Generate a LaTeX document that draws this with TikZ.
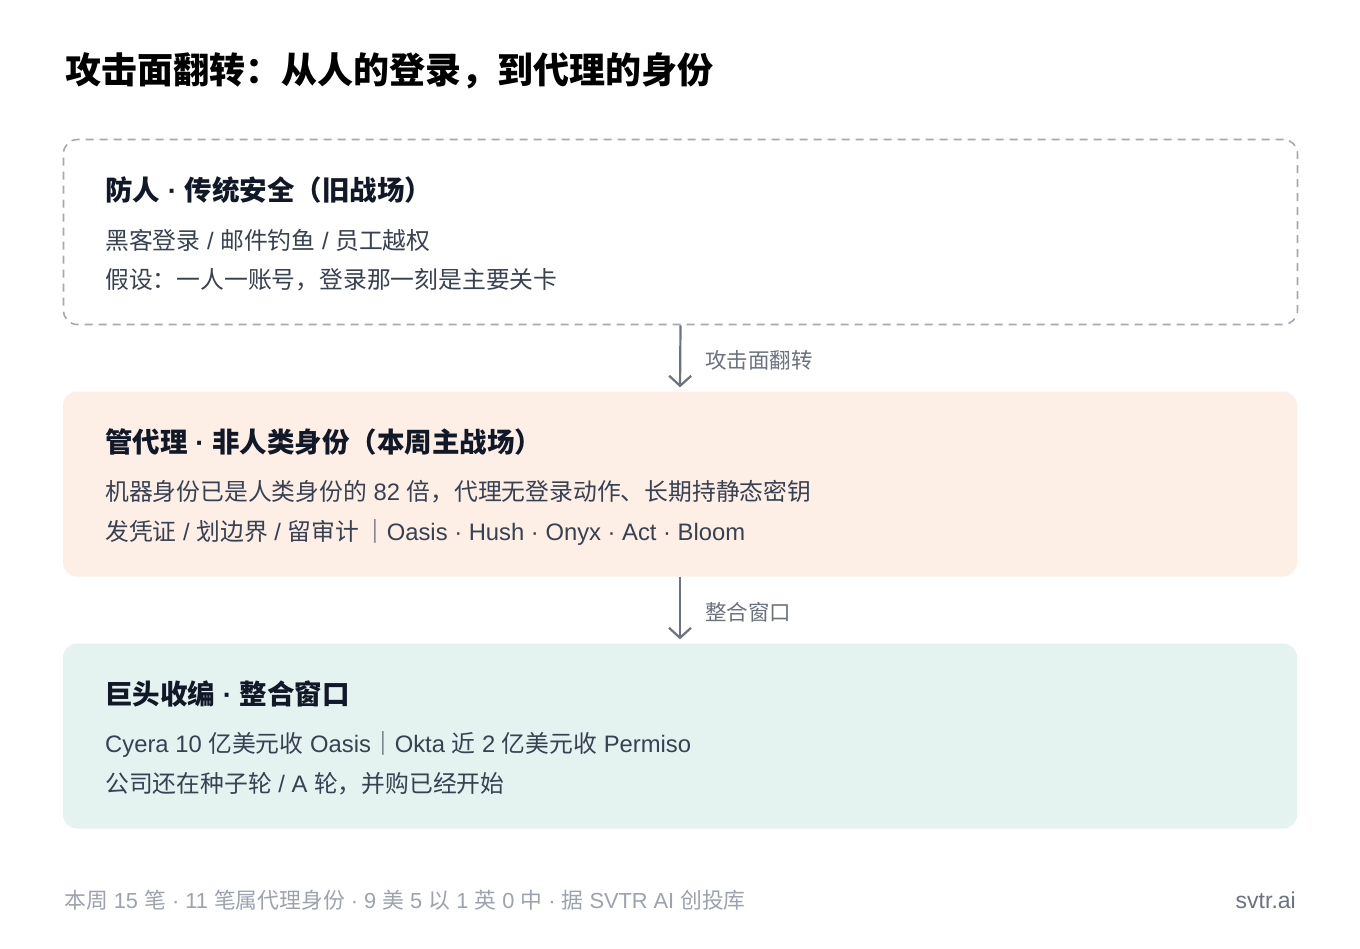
\documentclass[tikz,border=0pt]{standalone}
\usepackage{fontspec}
\setmainfont{Noto Sans CJK SC}
\newfontfamily\latinfont{Liberation Sans}
\newcommand\latn[1]{{\latinfont #1}}
\usetikzlibrary{arrows.meta}
\definecolor{inkdark}{HTML}{111827}
\definecolor{inkbody}{HTML}{374151}
\definecolor{arrowgray}{HTML}{6B7280}
\definecolor{footgray}{HTML}{9CA3AF}
\definecolor{dashgray}{HTML}{A3A9B3}
\definecolor{peachfill}{HTML}{FEEFE6}
\definecolor{mintfill}{HTML}{E4F2F0}
\begin{document}
\begin{tikzpicture}[x=1pt,y=-1pt,
  box/.style={rounded corners=14pt, minimum width=1234pt, minimum height=185pt, inner sep=0pt},
  head/.style={anchor=west, inner sep=0pt, text=inkdark, font=\fontsize{27.5}{32}\selectfont\bfseries},
  body/.style={anchor=west, inner sep=0pt, text=inkbody, font=\fontsize{23.8}{28}\selectfont},
  flow/.style={draw=arrowgray, line width=2.2pt, shorten >=4pt, -{Straight Barb[length=10pt,width=22pt,line width=2.2pt]}},
  flowlabel/.style={anchor=west, inner sep=0pt, text=arrowgray, font=\fontsize{21.5}{24}\selectfont}]
  \useasboundingbox[fill=white] (0,0) rectangle (1360,948);
  % title
  \node[anchor=west, inner sep=0pt, text=black, font=\fontsize{36}{42}\selectfont\bfseries] (title) at (65,71) {攻击面翻转：从人的登录，到代理的身份};
  % three stages
  \node[box, draw=dashgray, line width=1.6pt, dash pattern=on 8pt off 6pt] (old) at (680.5,232) {};
  \node[box, fill=peachfill] (agent) at (680,484) {};
  \node[box, fill=mintfill] (merge) at (680,736) {};
  % old battlefield
  \node[head] (oldhead) at (105,190) {防人\latn{ · }传统安全（旧战场）};
  \node[body] (oldone) at (105,240) {黑客登录\latn{ / }邮件钓鱼\latn{ / }员工越权};
  \node[body] (oldtwo) at (105,280) {假设：一人一账号，登录那一刻是主要关卡};
  % agent identity
  \node[head] (agenthead) at (105,442) {管代理\latn{ · }非人类身份（本周主战场）};
  \node[body] (agentone) at (105,492) {机器身份已是人类身份的\latn{ 82 }倍，代理无登录动作、长期持静态密钥};
  \node[body] (agenttwo) at (105,532) {发凭证\latn{ / }划边界\latn{ / }留审计\,｜\latn{Oasis · Hush · Onyx · Act · Bloom}};
  % consolidation
  \node[head] (mergehead) at (105,694) {巨头收编\latn{ · }整合窗口};
  \node[body] (mergeone) at (105,744) {\latn{Cyera 10 }亿美元收\latn{ Oasis}｜\latn{Okta }近\latn{ 2 }亿美元收\latn{ Permiso}};
  \node[body] (mergetwo) at (105,784) {公司还在种子轮\latn{ / A }轮，并购已经开始};
  % connectors
  \draw[flow] (old.south) -- (agent.north);
  \node[flowlabel] (flip) at (705,360) {攻击面翻转};
  \draw[flow] (agent.south) -- (merge.north);
  \node[flowlabel] (window) at (705,612) {整合窗口};
  % footer
  \node[anchor=west, inner sep=0pt, text=footgray, font=\fontsize{21.8}{24}\selectfont] (source) at (64,900) {本周\latn{ 15 }笔\latn{ · 11 }笔属代理身份\latn{ · 9 }美\latn{ 5 }以\latn{ 1 }英\latn{ 0 }中\latn{ · }据\latn{ SVTR AI }创投库};
  \node[anchor=east, inner sep=0pt, text=arrowgray, font=\fontsize{23}{26}\selectfont\latinfont] (site) at (1296,900) {svtr.ai};
\end{tikzpicture}
\end{document}
